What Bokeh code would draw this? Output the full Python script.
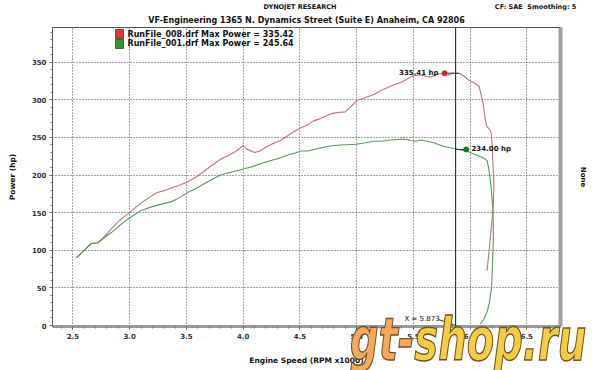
import math
from bokeh.plotting import figure
from bokeh.models import (Label, Range1d, SingleIntervalTicker, NumeralTickFormatter,
                          LinearAxis, Span, Title, Div, FixedTicker)
from bokeh.layouts import column
from bokeh.embed import file_html
from bokeh.resources import INLINE

# ---------------- data ----------------
red_rpm = [2.53, 2.60, 2.66, 2.72, 2.77, 2.85, 2.92, 3.00, 3.06, 3.13, 3.20, 3.25, 3.32, 3.39,
           3.45, 3.50, 3.57, 3.63, 3.70, 3.80, 3.87, 3.93, 4.00, 4.04, 4.10, 4.15, 4.21, 4.28,
           4.33, 4.39, 4.45, 4.51, 4.57, 4.62, 4.68, 4.74, 4.79, 4.83, 4.90, 4.95, 5.00, 5.08,
           5.15, 5.21, 5.27, 5.33, 5.39, 5.45, 5.50, 5.55, 5.59, 5.65, 5.71, 5.775, 5.80, 5.85,
           5.91, 5.95, 5.98, 6.03, 6.08, 6.10, 6.115, 6.13, 6.145, 6.17, 6.185, 6.195, 6.20,
           6.21, 6.205, 6.19, 6.175, 6.165, 6.15]
red_hp = [90, 100, 109, 110, 117, 130, 141, 150, 158, 166, 173, 177, 180, 184,
          187, 190, 196, 202, 210, 221, 226, 231, 239, 234, 230, 232, 238, 243,
          246, 252, 258, 263, 267, 272, 275, 279, 282, 283, 284, 291, 299, 303,
          307, 312, 316, 320, 323, 328, 332, 333, 332, 330, 334, 335.4, 333, 335,
          335, 331, 327, 323, 318, 305, 295, 278, 265, 261, 257, 240, 220,
          185, 160, 135, 110, 95, 73]

green_rpm = [2.53, 2.60, 2.66, 2.72, 2.77, 2.85, 2.92, 3.00, 3.10, 3.20, 3.27, 3.36, 3.43, 3.50,
             3.57, 3.63, 3.70, 3.80, 3.90, 4.00, 4.08, 4.15, 4.24, 4.33, 4.40, 4.45, 4.51, 4.57,
             4.68, 4.78, 4.86, 5.00, 5.08, 5.15, 5.22, 5.30, 5.42, 5.48, 5.52, 5.57, 5.62, 5.68,
             5.75, 5.80, 5.88, 5.97, 6.00, 6.05, 6.10, 6.135, 6.15, 6.165, 6.18, 6.19, 6.20,
             6.205, 6.205, 6.20, 6.19, 6.17, 6.15, 6.12, 6.09]
green_hp = [90, 100, 109, 110, 116, 125, 134, 143, 153, 158, 161, 164, 169, 176,
            181, 186, 192, 200, 204, 208, 211, 215, 219, 223, 227, 229, 232, 232,
            236, 239, 240, 241, 243, 245, 245, 246.5, 247.8, 246, 245, 246.5, 245, 243,
            239, 237, 234.5, 232, 230, 227, 224, 221, 219, 208, 192, 175, 157,
            135, 117, 90, 51, 30, 18, 8, 2]

run_names = ["RunFile_008.drf", "RunFile_001.drf"]
max_power = [335.42, 245.64]
red_mark = (5.775, 335.41)
green_mark = (5.966, 234.00)
cursor_x = 5.873

# ---------------- layout helpers ----------------
W, H = 600, 370
FL, FR, FT, FB = 52, 560, 27, 326
X0, X1 = 2.32, 6.797
Y0, Y1 = -1.3, 396.1


def dx(px):
    return X0 + (px - FL) * (X1 - X0) / (FR - FL)


def dy(py):
    return Y0 + (FB - py) * (Y1 - Y0) / (FB - FT)


FONT = "DejaVu Sans"
RED = "#c07474"
GREEN = "#5a975a"

p = figure(width=W, height=H, x_range=Range1d(X0, X1), y_range=Range1d(Y0, Y1),
           output_backend="svg", toolbar_location=None,
           min_border_left=FL, min_border_right=W - FR,
           min_border_top=FT, min_border_bottom=H - FB)
p.background_fill_color = "white"
p.border_fill_color = "white"
p.outline_line_color = "#555555"
p.outline_line_width = 1

# header lines: outer line is p.title, the added Title sits next to the frame
NB = "\u00a0"
p.title.text = "DYNOJET RESEARCH" + NB * 70 + "CF: SAE" + NB * 2 + "Smoothing: 5"
p.title.align = "left"
p.title.offset = 263 - FL
p.title.text_font = FONT
p.title.text_font_size = "6.5px"
p.title.text_font_style = "bold"
p.title.text_color = "#111111"
p.title.standoff = 0
p.add_layout(Title(text="VF-Engineering 1365 N. Dynamics Street (Suite E) Anaheim, CA 92806",
                   align="center", text_font=FONT, text_font_size="8px",
                   text_font_style="bold", text_color="#111111", standoff=6), "above")

# axes
p.xaxis.ticker = SingleIntervalTicker(interval=0.5, num_minor_ticks=5)
p.yaxis.ticker = SingleIntervalTicker(interval=50, num_minor_ticks=5)
p.xaxis.formatter = NumeralTickFormatter(format="0.0")
for ax in (p.xaxis[0], p.yaxis[0]):
    ax.major_label_text_font = FONT
    ax.major_label_text_font_size = "7px"
    ax.major_label_text_font_style = "bold"
    ax.major_label_text_color = "#333333"
    ax.major_tick_in = 0
    ax.major_tick_out = 3
    ax.minor_tick_in = 0
    ax.minor_tick_out = 2
    ax.major_tick_line_color = "#555555"
    ax.minor_tick_line_color = "#777777"
    ax.major_label_standoff = 3
    ax.axis_label_text_font = FONT
    ax.axis_label_text_font_size = "7.5px"
    ax.axis_label_text_font_style = "bold"
    ax.axis_label_text_color = "#111111"
p.xaxis.axis_line_color = "#9a9a9a"
p.xaxis.axis_line_width = 3
p.yaxis.axis_line_color = "#555555"
p.xaxis.axis_label = "Engine Speed (RPM x1000)"
p.xaxis.axis_label_standoff = 14
p.yaxis.axis_label = "Power (hp)"
p.yaxis.axis_label_standoff = 12

right = LinearAxis(ticker=FixedTicker(ticks=[]), major_tick_line_color=None,
                   minor_tick_line_color=None, axis_line_color="#a0a0a0",
                   axis_line_width=4, axis_label="None", axis_label_standoff=18,
                   axis_label_text_font=FONT, axis_label_text_font_size="7px",
                   axis_label_text_font_style="bold", axis_label_text_color="#111111")
p.add_layout(right, "right")

# grid
p.xgrid.ticker = SingleIntervalTicker(interval=0.5)
p.ygrid.ticker = SingleIntervalTicker(interval=50)
for g in (p.xgrid[0], p.ygrid[0]):
    g.grid_line_color = "#222222"
    g.grid_line_dash = "1 2"
    g.grid_line_width = 1
    g.grid_line_alpha = 0.8

# curves
p.line(red_rpm, red_hp, line_color=RED, line_width=1.1)
p.line(green_rpm, green_hp, line_color=GREEN, line_width=1.1)

# cursor
p.add_layout(Span(location=cursor_x, dimension="height", line_color="#111111", line_width=1))
p.segment(x0=[red_mark[0], cursor_x], y0=[red_mark[1], green_mark[1]],
          x1=[cursor_x + 0.03, green_mark[0]], y1=[red_mark[1], green_mark[1]],
          line_color="#333333", line_width=1)
p.scatter([red_mark[0]], [red_mark[1]], size=5, color="#d02020")
p.scatter([green_mark[0]], [green_mark[1]], size=5, color="#1a7a1a")
p.segment(x0=[dx(438)], y0=[dy(319)], x1=[cursor_x], y1=[0], line_color="#333333", line_width=1)

# legend swatches
p.quad(left=[dx(115), dx(115)], right=[dx(123), dx(123)],
       top=[dy(29), dy(39)], bottom=[dy(38), dy(48)],
       fill_color=["#d83a3a", "#2f9a2f"], line_color=["#8a1a1a", "#1a5a1a"], line_width=0.8)


def lab(text, px, py, size, bold=True, align="left", color="#111111"):
    # screen units from the frame's bottom-left corner
    p.add_layout(Label(x=px - FL, y=FB - py, x_units="screen", y_units="screen",
                       text=text, text_font=FONT, text_font_size=size,
                       text_font_style="bold" if bold else "normal",
                       text_align=align, text_baseline="middle", text_color=color))


lab(f"{run_names[0]} Max Power = {max_power[0]:.2f}", 127, 34, "8px")
lab(f"{run_names[1]} Max Power = {max_power[1]:.2f}", 127, 43, "8px")
lab(f"{red_mark[1]:.2f} hp", 438, 72, "7px", align="right")
lab(f"{green_mark[1]:.2f} hp", 471, 148, "7px")
lab(f"X = {cursor_x:.3f}", 404, 318, "7px", bold=False)

# watermark overlay
wm = Div(text='<span style="color:#f6a85c">gt-</span><span style="color:#f5cd45">shop.ru</span>',
         styles={"position": "absolute", "left": "345px", "top": "303px",
                 "width": "250px", "white-space": "nowrap",
                 "font-family": "DejaVu Sans", "font-size": "40px", "font-weight": "bold",
                 "font-style": "italic", "line-height": "44px", "z-index": "10",
                 "transform": "scaleY(1.45)", "transform-origin": "0 0",
                 "-webkit-text-stroke": "1px #6a5520"})

layout = column(p, wm)
open("out.html", "w").write(file_html(layout, INLINE))
